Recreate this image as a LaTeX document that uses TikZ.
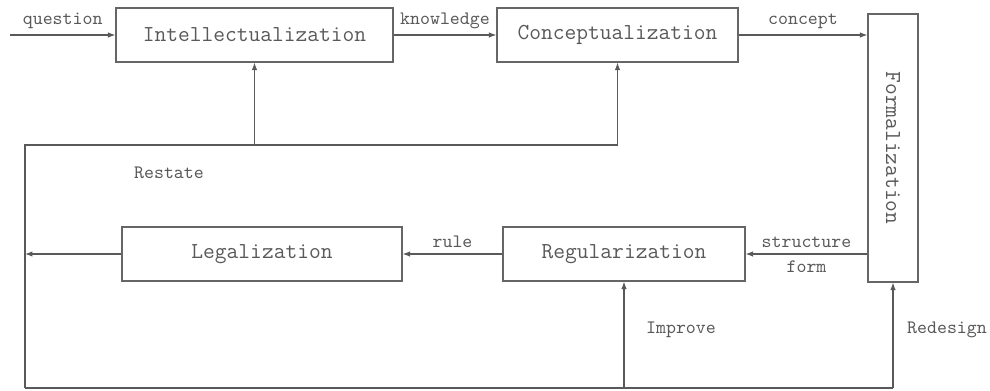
\documentclass[tikz,border=0pt]{standalone}
\usetikzlibrary{arrows.meta,positioning}

\begin{document}
\begin{tikzpicture}[x=0.02cm, y=-0.02cm,
    every node/.style={font=\ttfamily\fontsize{10.8}{12}\selectfont, text=black!65},
    stage/.style={draw=black!60, line width=0.7pt, minimum height=1.08cm, inner sep=0pt,
                  font=\ttfamily\fontsize{13}{15}\selectfont},
    flow/.style={draw=black!65, line width=0.6pt, -{Latex[length=1.5mm,width=1.1mm]}},
    link/.style={draw=black!65, line width=0.6pt}]
        \useasboundingbox (0,0) rectangle (990,390);
        \node[stage, minimum width=5.54cm] (intel) at (254.5,35) {Intellectualization};
        \node[stage, minimum width=4.82cm] (concept) at (617.5,35) {Conceptualization};
        \node[stage, minimum width=1cm, minimum height=5.36cm] (formal) at (893,148) {\rotatebox{-90}{Formalization}};
        \node[stage, minimum width=4.84cm] (regul) at (624,254) {Regularization};
        \node[stage, minimum width=5.6cm] (legal) at (262,254) {Legalization};
        \coordinate (qin) at (10,35);
        \coordinate (fbtop) at (25,145);
        \coordinate (fbbot) at (25,388);
        \draw[flow] (qin) -- node[above] (lq) {question} (intel);
        \draw[flow] (intel) -- node[above] (lk) {knowledge} (concept);
        \draw[flow] (concept) -- node[above] (lc) {concept} (concept -| formal.west);
        \draw[flow] (formal.west |- regul) -- node[above] (ls) {structure} node[below] (lf) {form} (regul);
        \draw[flow] (regul) -- node[above] (lr) {rule} (legal);
        \draw[flow] (legal) -- (legal -| fbtop);
        \draw[link] (fbbot) -- (fbtop) -- (fbtop -| concept);
        \draw[flow] (fbtop -| concept) -- (concept);
        \draw[flow] (fbtop -| intel) -- (intel);
        \draw[link] (fbbot) -- (fbbot -| formal);
        \draw[flow] (fbbot -| formal) -- (formal);
        \draw[flow] (fbbot -| regul) -- (regul);
        \node (restate) at (169,173) {Restate};
        \node (improve) at (681,330) {Improve};
        \node (redesign) at (947,330) {Redesign};
\end{tikzpicture}
\end{document}
